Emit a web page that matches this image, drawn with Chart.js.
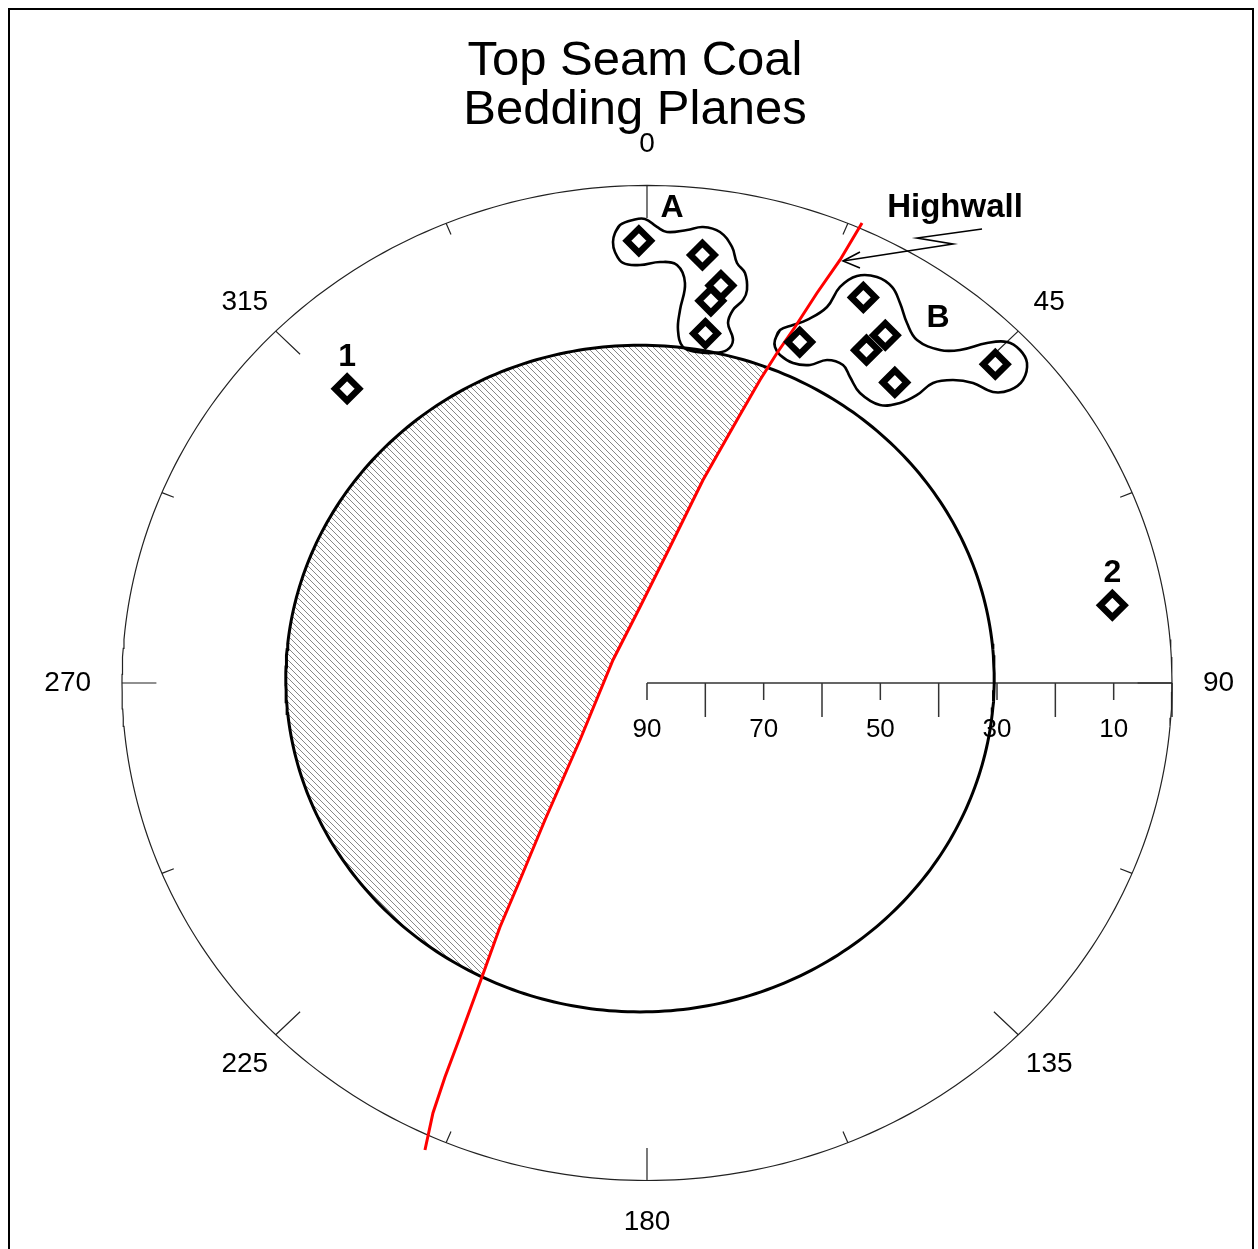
<!DOCTYPE html>
<html>
<head>
<meta charset="utf-8">
<title>Top Seam Coal - Bedding Planes</title>
<script src="https://cdn.jsdelivr.net/npm/chart.js@4/dist/chart.umd.min.js"></script>
<style>
  html, body { margin: 0; padding: 0; background: #fff; overflow: hidden; }
  #wrap { position: relative; width: 1258px; height: 1249px; overflow: hidden; }
  #frame { position: absolute; left: 8px; top: 8px; width: 1246px; height: 1300px;
           border: 2px solid #000; box-sizing: border-box; pointer-events: none; }
  canvas { display: block; }
</style>
</head>
<body>
<div id="wrap">
  <canvas id="net" width="1258" height="1249"></canvas>
  <div id="frame"></div>
</div>
<script>
// ---- Chart text ----
const titleLines = ['Top Seam Coal', 'Bedding Planes'];

// ---- Poles to bedding planes (azimuth in degrees, dip in degrees) ----
const clusterA_az  = [359, 7, 10, 9, 9];
const clusterA_dip = [10, 12, 17, 20, 26];
const clusterB_az  = [28, 23, 33, 32, 38, 46];
const clusterB_dip = [11, 23, 15, 19, 21, 7];
const pole1_az = [316], pole1_dip = [16];
const pole2_az = [80],  pole2_dip = [9];
const poleNames = ['1', '2'];

// ---- Axes ----
const azimuthTicks  = [0, 22.5, 45, 67.5, 90, 112.5, 135, 157.5, 180, 202.5, 225, 247.5, 270, 292.5, 315, 337.5];
const azimuthLabels = [0, 45, 90, 135, 180, 225, 270, 315];
const dipTicks  = [90, 80, 70, 60, 50, 40, 30, 20, 10, 0];
const dipLabels = [90, 70, 50, 30, 10];

// ---- Friction circle (30 deg), as traced on the net ----
const frictionAngle = 30;
const frictionCenter = [-1.2, 0.8];
const frictionStretch = [1.012, 1.005];

// ---- Highwall trace, net coordinates (east, north) ----
const highwallTrace = [
  [-38.06, -84.48], [-36.69, -77.79], [-34.63, -71.27], [-32.06, -64.04], [-28.29, -53.18],
  [-25.20, -44.14], [-21.77, -35.64], [-17.49, -24.78], [-11.49, -10.31], [-5.83, 4.16],
  [-1.20, 13.75], [3.94, 24.60], [9.60, 36.72], [15.43, 47.58], [19.37, 54.81],
  [22.29, 59.70], [25.37, 64.40], [29.14, 70.55], [33.09, 76.52], [36.86, 83.21]
];

// ---- Cluster outlines, net coordinates (east, north) ----
const outlineA = [
  [-5.49, 81.40], [-4.63, 82.85], [-2.40, 83.76], [-0.34, 83.94], [1.71, 82.49], [3.43, 81.58],
  [6.86, 81.95], [9.60, 82.49], [12.51, 81.58], [14.57, 78.87], [15.43, 75.98], [16.80, 74.17],
  [17.14, 71.09], [16.46, 69.28], [14.74, 67.47], [13.89, 65.12], [14.74, 62.05], [13.71, 60.24],
  [11.31, 59.70], [8.57, 59.88], [6.17, 60.78], [5.31, 63.86], [5.66, 67.47], [6.51, 72.36],
  [5.14, 75.61], [2.23, 76.16], [-1.20, 75.61], [-4.11, 75.98], [-5.49, 77.97], [-5.83, 79.78]
];
const outlineB = [
  [21.94, 62.05], [22.80, 63.86], [25.03, 64.76], [27.43, 65.67], [30.86, 68.02], [33.09, 71.64],
  [36.00, 73.63], [39.43, 73.44], [42.00, 71.64], [43.37, 68.74], [44.57, 65.12], [46.29, 62.05],
  [50.23, 60.24], [53.66, 60.24], [58.29, 61.50], [61.71, 61.69], [63.94, 60.24], [65.14, 57.89],
  [64.46, 54.81], [62.23, 53.00], [59.31, 52.64], [55.89, 54.27], [52.46, 54.81], [49.03, 54.27],
  [46.29, 52.10], [43.37, 50.65], [39.94, 50.29], [36.51, 52.46], [34.80, 55.35], [33.60, 57.53],
  [30.86, 58.43], [27.94, 57.53], [25.03, 57.89], [22.80, 59.33], [21.94, 60.78]
];

// ---- Annotation anchors, net coordinates ----
const clusterLabels = [ { text: 'A', x: 4.3, y: 85.9 }, { text: 'B', x: 49.9, y: 66.0 } ];
const highwallLabel = { text: 'Highwall', x: 52.8, y: 85.9 };
const highwallLeader = [[57.43, 82.13], [46.29, 80.50], [52.46, 79.41], [33.60, 76.34]];
const highwallArrowHead = [[36.51, 77.97], [33.60, 76.34], [36.51, 75.07]];

// ---- Helpers ----
const DEG = Math.PI / 180;
function net(az, dip) {
  const r = 90 - dip;
  return { x: r * Math.sin(az * DEG), y: r * Math.cos(az * DEG) };
}
const GAP = { x: null, y: null };
const pairs = arr => arr.map(p => ({ x: p[0], y: p[1] }));
const poles = (azs, dips) => azs.map((a, i) => net(a, dips[i]));
function closedLoop(arr) {
  const pts = pairs(arr);
  return pts.concat([pts[0], pts[1]]);
}

// outer primitive circle and friction circle
const outerRing = [];
for (let a = 0; a <= 360; a += 1) outerRing.push(net(a, 0));
const frictionRing = [];
for (let a = 0; a <= 360; a += 1) {
  const r = 90 - frictionAngle;
  frictionRing.push({
    x: frictionCenter[0] + r * frictionStretch[0] * Math.sin(a * DEG),
    y: frictionCenter[1] + r * frictionStretch[1] * Math.cos(a * DEG)
  });
}

// azimuth ticks pointing inward from the primitive
const azTickData = [];
azimuthTicks.forEach(a => {
  const len = (a % 45 === 0) ? 5.9 : 2.2;
  azTickData.push(net(a, 0), net(a, len), GAP);
});

// dip scale along the east radius
const dipAxisData = [{ x: 0, y: 0 }, { x: 90, y: 0 }, GAP];
dipTicks.forEach(d => {
  const len = (d % 20 === 0) ? 6.15 : 3.08;
  dipAxisData.push({ x: 90 - d, y: 0 }, { x: 90 - d, y: -len }, GAP);
});

// ---- Hatched region: friction circle on the side west of the highwall ----
function hatchPattern() {
  const s = 6;
  const c = document.createElement('canvas');
  c.width = s; c.height = s;
  const g = c.getContext('2d');
  g.strokeStyle = '#6a6a6a';
  g.lineWidth = 0.8;
  g.beginPath();
  g.moveTo(-1, -1); g.lineTo(s + 1, s + 1);
  g.moveTo(s - 1, -1); g.lineTo(s + 1, 1);
  g.moveTo(-1, s - 1); g.lineTo(1, s + 1);
  g.stroke();
  return c;
}

const hatchPlugin = {
  id: 'hatch',
  beforeDatasetsDraw(chart) {
    const { ctx } = chart;
    const xs = chart.scales.x, ys = chart.scales.y;
    const X = v => xs.getPixelForValue(v), Y = v => ys.getPixelForValue(v);
    const r = 90 - frictionAngle;
    const cx = X(frictionCenter[0]), cy = Y(frictionCenter[1]);
    const rx = X(frictionCenter[0] + r * frictionStretch[0]) - cx;
    const ry = cy - Y(frictionCenter[1] + r * frictionStretch[1]);
    ctx.save();
    ctx.beginPath();
    ctx.ellipse(cx, cy, rx, ry, 0, 0, Math.PI * 2);
    ctx.clip();
    ctx.beginPath();
    highwallTrace.forEach((p, i) => {
      const px = X(p[0]), py = Y(p[1]);
      if (i === 0) ctx.moveTo(px, py); else ctx.lineTo(px, py);
    });
    const first = highwallTrace[0], last = highwallTrace[highwallTrace.length - 1];
    ctx.lineTo(X(-120), Y(last[1]));
    ctx.lineTo(X(-120), Y(first[1]));
    ctx.closePath();
    ctx.fillStyle = ctx.createPattern(hatchPattern(), 'repeat');
    ctx.fill();
    ctx.restore();
  }
};

const FONT = '"Liberation Sans", Arial, Helvetica, sans-serif';
const labelPlugin = {
  id: 'netLabels',
  afterDatasetsDraw(chart) {
    const { ctx } = chart;
    const xs = chart.scales.x, ys = chart.scales.y;
    const X = v => xs.getPixelForValue(v), Y = v => ys.getPixelForValue(v);
    ctx.save();
    ctx.fillStyle = '#000';

    // title
    ctx.font = '49px ' + FONT;
    ctx.textAlign = 'center';
    ctx.textBaseline = 'alphabetic';
    titleLines.forEach((t, i) => ctx.fillText(t, chart.width / 2 + 6, chart.chartArea.top + 75 + i * 49));

    // azimuth labels around the primitive
    ctx.font = '28px ' + FONT;
    ctx.textBaseline = 'middle';
    azimuthLabels.forEach(a => {
      let p, align = 'center';
      if (a === 90) { p = net(a, -5.3); align = 'left'; }
      else if (a === 270) { p = net(a, -5.3); align = 'right'; }
      else p = net(a, -7.5);
      ctx.textAlign = align;
      ctx.fillText(String(a), X(p.x), Y(p.y));
    });

    // dip scale labels
    ctx.font = '26px ' + FONT;
    ctx.textAlign = 'center';
    dipLabels.forEach(d => ctx.fillText(String(d), X(90 - d), Y(-8.5)));

    // cluster and pole labels
    ctx.font = 'bold 32px ' + FONT;
    clusterLabels.forEach(l => ctx.fillText(l.text, X(l.x), Y(l.y)));
    const singles = [poles(pole1_az, pole1_dip)[0], poles(pole2_az, pole2_dip)[0]];
    singles.forEach((p, i) => ctx.fillText(poleNames[i], X(p.x), Y(p.y) - 32));

    ctx.font = 'bold 33px ' + FONT;
    ctx.fillText(highwallLabel.text, X(highwallLabel.x), Y(highwallLabel.y));
    ctx.restore();
  }
};

const lineDefaults = { showLine: true, pointRadius: 0, pointHoverRadius: 0, fill: false, spanGaps: false };
const markerStyle = {
  pointStyle: 'rectRot', pointRadius: 12, pointHoverRadius: 12,
  borderWidth: 6.5, pointBorderWidth: 6.5,
  borderColor: '#000', pointBorderColor: '#000',
  backgroundColor: '#fff', pointBackgroundColor: '#fff',
  showLine: false
};

new Chart(document.getElementById('net'), {
  type: 'scatter',
  data: {
    datasets: [
      { label: 'Cluster A', data: poles(clusterA_az, clusterA_dip), order: 0, ...markerStyle },
      { label: 'Cluster B', data: poles(clusterB_az, clusterB_dip), order: 0, ...markerStyle },
      { label: 'Pole 1', data: poles(pole1_az, pole1_dip), order: 0, ...markerStyle },
      { label: 'Pole 2', data: poles(pole2_az, pole2_dip), order: 0, ...markerStyle },
      { label: 'Outline A', data: closedLoop(outlineA), order: 2, ...lineDefaults,
        borderColor: '#000', borderWidth: 2.6, tension: 0.4 },
      { label: 'Outline B', data: closedLoop(outlineB), order: 2, ...lineDefaults,
        borderColor: '#000', borderWidth: 2.6, tension: 0.4 },
      { label: 'Highwall', data: pairs(highwallTrace), order: 1, ...lineDefaults,
        borderColor: '#ff0000', borderWidth: 3, tension: 0 },
      { label: 'Leader', data: pairs(highwallLeader), order: 3, ...lineDefaults,
        borderColor: '#000', borderWidth: 1.6, tension: 0 },
      { label: 'Arrow', data: pairs(highwallArrowHead), order: 3, ...lineDefaults,
        borderColor: '#000', borderWidth: 1.6, tension: 0 },
      { label: 'Friction circle', data: frictionRing, order: 4, ...lineDefaults,
        borderColor: '#000', borderWidth: 3, tension: 0 },
      { label: 'Primitive', data: outerRing, order: 5, ...lineDefaults,
        borderColor: '#222', borderWidth: 1.2, tension: 0 },
      { label: 'Azimuth ticks', data: azTickData, order: 5, ...lineDefaults,
        borderColor: '#222', borderWidth: 1.2, tension: 0 },
      { label: 'Dip scale', data: dipAxisData, order: 5, ...lineDefaults,
        borderColor: '#333', borderWidth: 1.5, tension: 0 }
    ]
  },
  options: {
    responsive: false,
    animation: false,
    events: [],
    layout: { padding: 0, autoPadding: false },
    plugins: { legend: { display: false }, tooltip: { enabled: false }, title: { display: false } },
    scales: {
      x: { type: 'linear', min: -110.91, max: 104.74, display: false },
      y: { type: 'linear', min: -102.39, max: 123.55, display: false }
    }
  },
  plugins: [hatchPlugin, labelPlugin]
});
</script>
</body>
</html>
